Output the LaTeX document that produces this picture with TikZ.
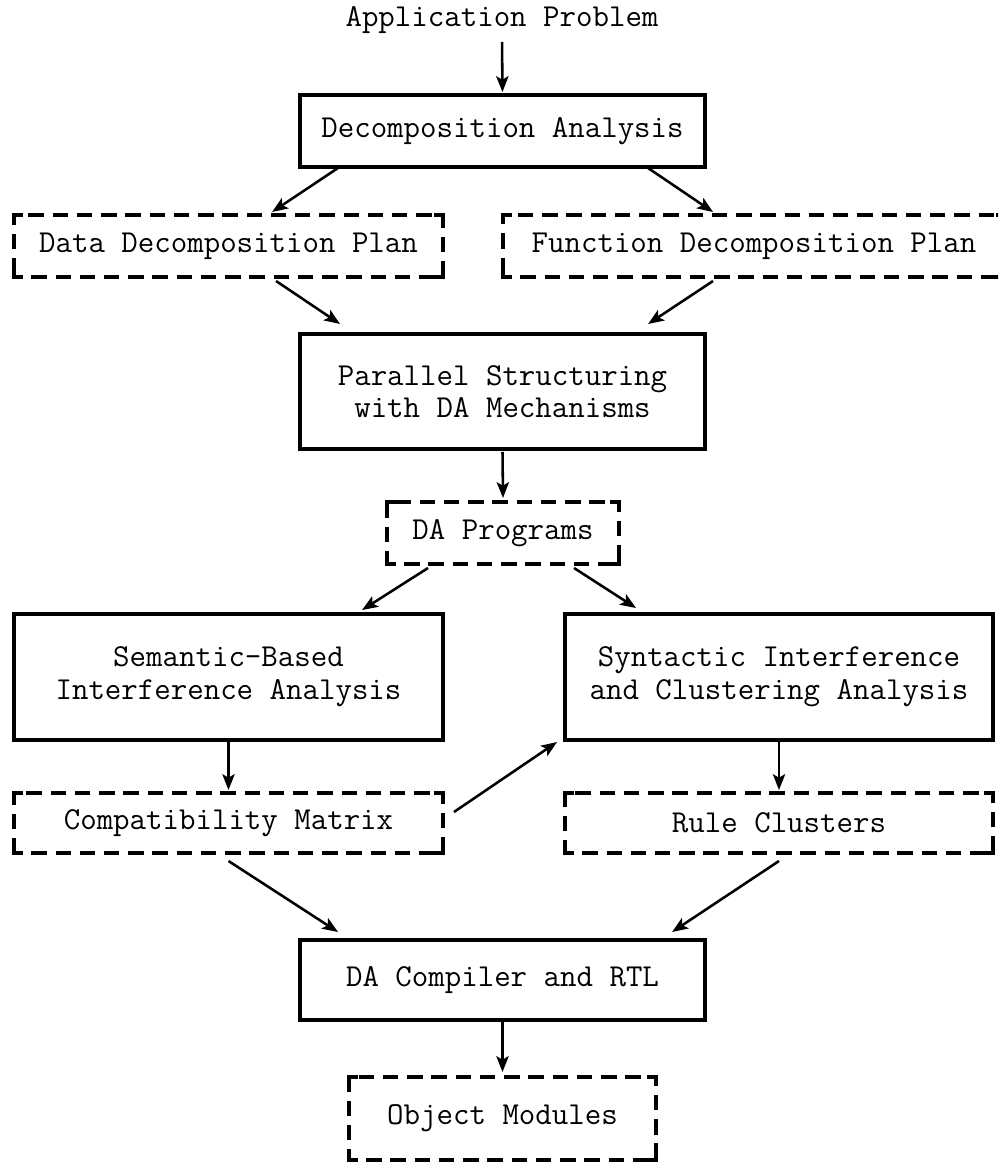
\documentclass[tikz,border=0pt]{standalone}
\usepackage{fontspec}
\usetikzlibrary{arrows.meta,calc}
\begin{document}
\begin{tikzpicture}[x=0.02cm,y=-0.02cm,
  every node/.style={font=\ttfamily\fontsize{18.2}{18.6}\selectfont,
    align=center, inner sep=0pt, outer sep=0pt},
  solidbox/.style={draw, line width=2.4pt},
  dashbox/.style={draw, line width=2.3pt, dash pattern=on 8.8pt off 5pt, dash phase=4pt},
  conn/.style={-{Stealth[length=9pt,width=7pt,inset=2pt]}, line width=1.45pt},
  cornermark/.style={line width=2.3pt}
]
\useasboundingbox (0,0) rectangle (998,1163);
\clip (0,0) rectangle (998,1163);

% processing steps and their products
\node (app) [minimum height=0.72cm] at (502,20) {Application Problem};
\node (dec) [solidbox, minimum width=8.1cm, minimum height=1.44cm] at (502.5,131) {Decomposition Analysis};
\node (data) [dashbox, minimum width=8.58cm, minimum height=1.24cm] at (228.5,246) {Data Decomposition Plan};
\node (func) [dashbox, minimum width=10.04cm, minimum height=1.24cm] at (754,246) {Function Decomposition Plan};
\node (par) [solidbox, minimum width=8.1cm, minimum height=2.3cm] at (502.5,391.5) {Parallel Structuring\\with DA Mechanisms};
\node (dap) [dashbox, minimum width=4.64cm, minimum height=1.24cm] at (503,533) {DA Programs};
\node (sem) [solidbox, minimum width=8.58cm, minimum height=2.52cm] at (228.5,677) {Semantic-Based\\Interference Analysis};
\node (syn) [solidbox, minimum width=8.56cm, minimum height=2.52cm] at (779,677) {Syntactic Interference\\and Clustering Analysis};
\node (comp) [dashbox, minimum width=8.58cm, minimum height=1.2cm] at (228.5,823) {Compatibility Matrix};
\node (rule) [dashbox, minimum width=8.56cm, minimum height=1.2cm] at (779,823) {Rule Clusters};
\node (dac) [solidbox, minimum width=8.1cm, minimum height=1.6cm] at (502.5,980) {DA Compiler and RTL};
\node (obj) [dashbox, minimum width=6.14cm, minimum height=1.66cm] at (502.5,1118.5) {Object Modules};

% solid corners on the dashed boxes
\foreach \n in {data,func,dap,comp,rule,obj}{
  \draw[cornermark] ($(\n.north west)+(0,9)$) -- (\n.north west) -- ++(9,0);
  \draw[cornermark] ($(\n.north east)+(0,9)$) -- (\n.north east) -- ++(-9,0);
  \draw[cornermark] ($(\n.south west)+(0,-9)$) -- (\n.south west) -- ++(9,0);
  \draw[cornermark] ($(\n.south east)+(0,-9)$) -- (\n.south east) -- ++(-9,0);
}

% connectors
\draw[conn, shorten <=4*0.02cm, shorten >=3*0.02cm] (app.south) -- (dec.north);
\draw[conn] ($(dec.south west)+(38,1)$) -- ($(data.north west)+(258,-3)$);
\draw[conn] ($(dec.south west)+(348,1)$) -- ($(func.north west)+(210,-3)$);
\draw[conn] ($(data.south west)+(262,4)$) -- ($(par.north west)+(40,-10)$);
\draw[conn] ($(func.south west)+(210,4)$) -- ($(par.north west)+(348,-10)$);
\draw[conn] ($(par.south)+(0,3)$) -- ($(dap.north)+(0,-4)$);
\draw[conn] ($(dap.south west)+(41,4)$) -- ($(sem.north west)+(348,-4)$);
\draw[conn] ($(dap.south west)+(187,4)$) -- ($(syn.north west)+(71,-6)$);
\draw[conn] ($(sem.south)+(0,2)$) -- ($(comp.north)+(0,-3)$);
\draw[conn] ($(comp.north east)+(11,19)$) -- ($(syn.south west)+(-8,2)$);
\draw[conn] ($(syn.south)+(0,2)$) -- ($(rule.north)+(0,-3)$);
\draw[conn] ($(comp.south)+(0,8)$) -- ($(dac.north west)+(38,-8)$);
\draw[conn] ($(rule.south)+(0,8)$) -- ($(dac.north west)+(372,-8)$);
\draw[conn] ($(dac.south)+(0,2)$) -- ($(obj.north)+(0,-5)$);
\end{tikzpicture}
\end{document}
